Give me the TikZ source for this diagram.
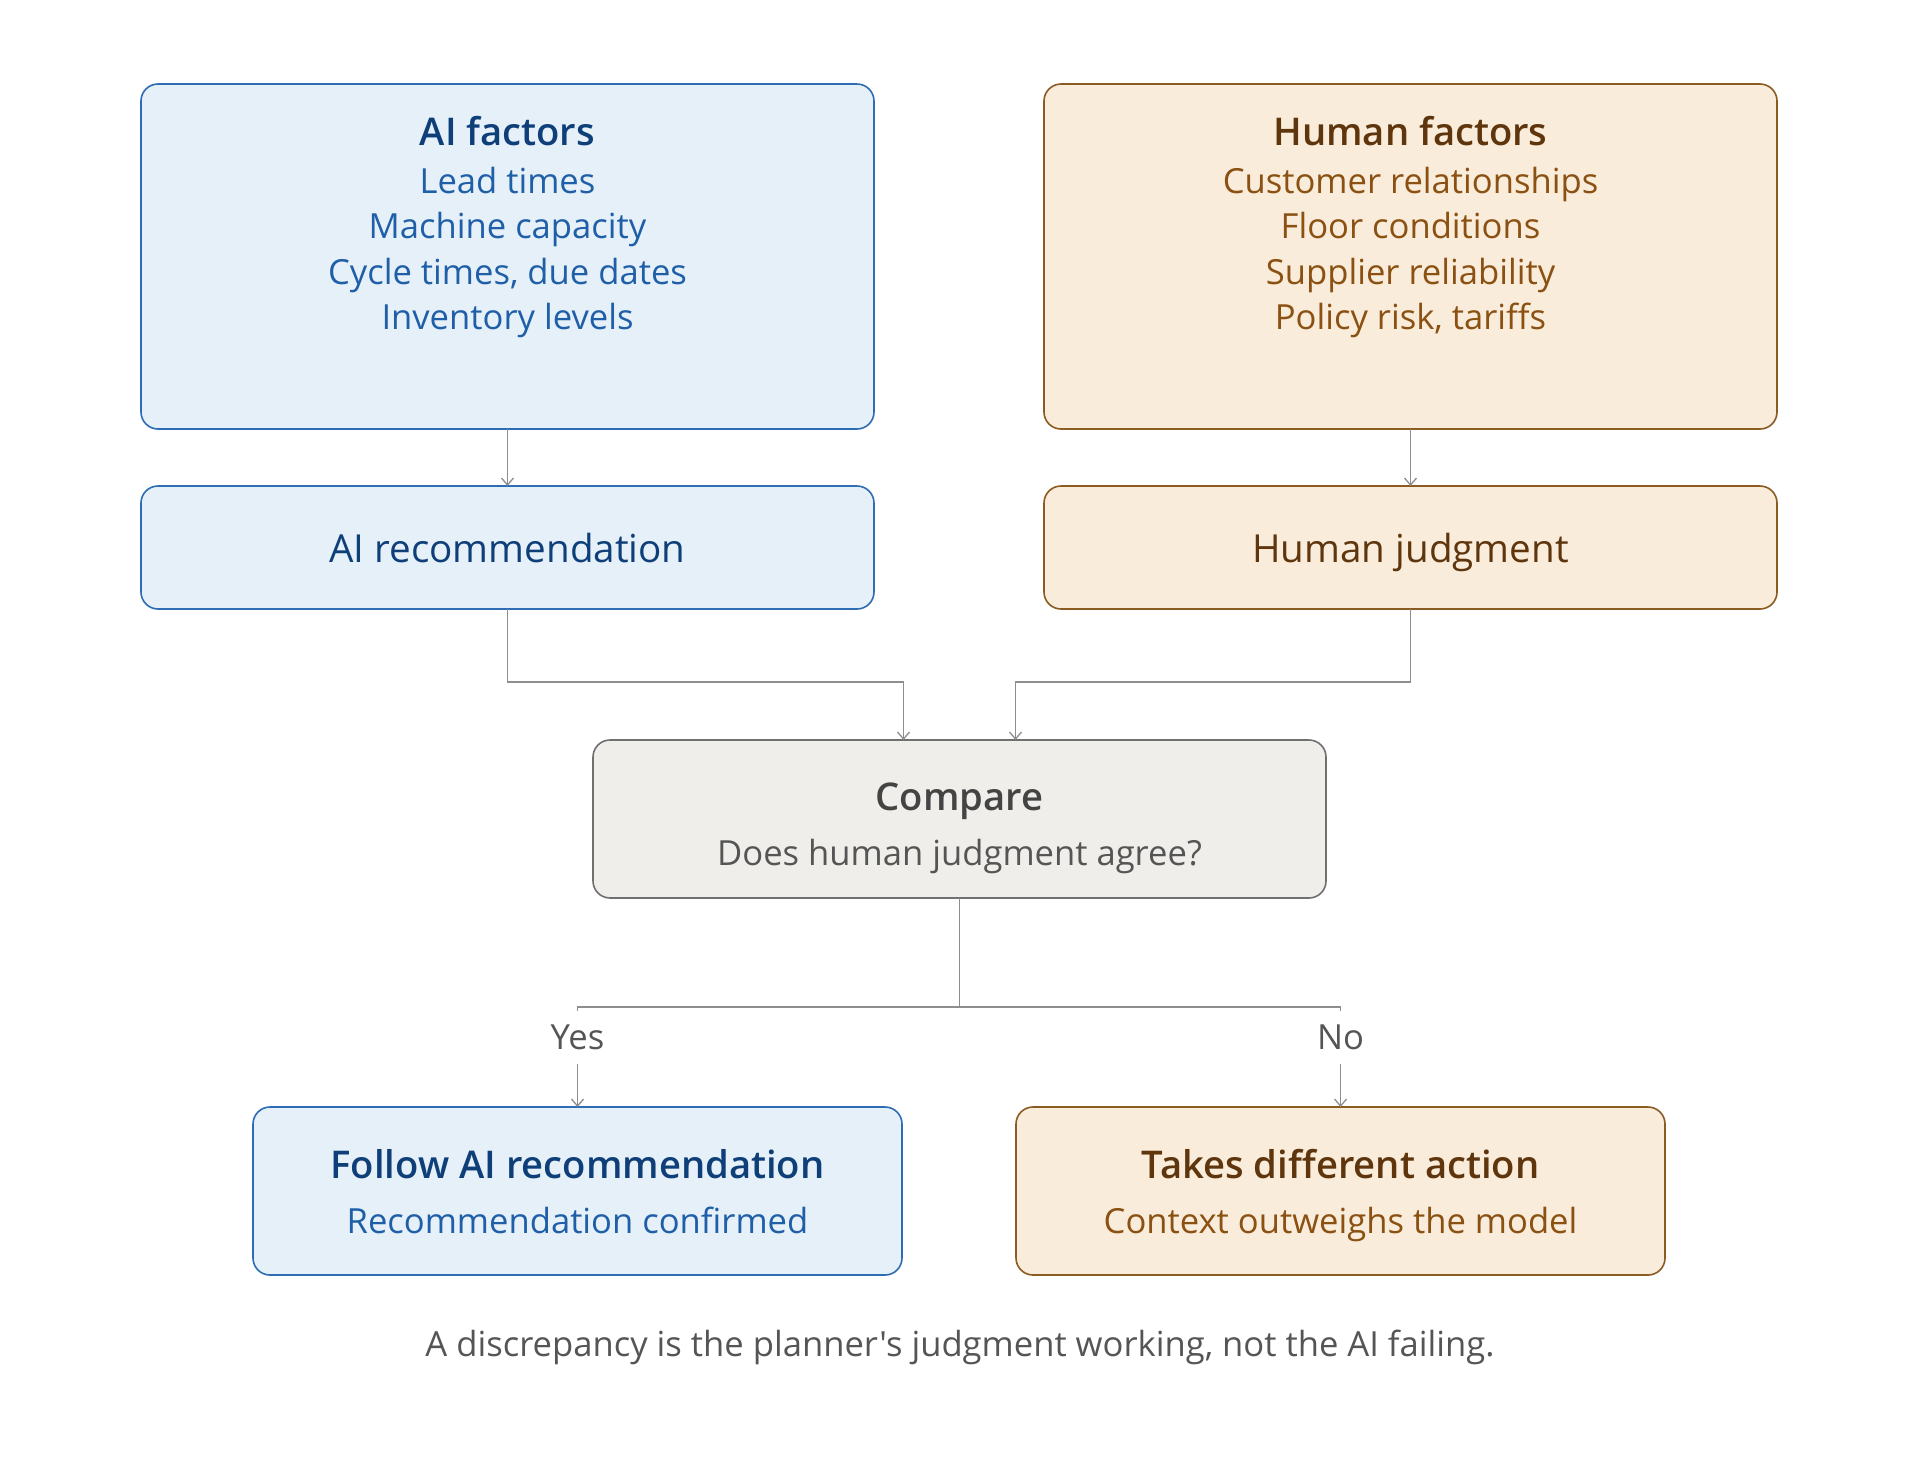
\documentclass[tikz,border=0pt]{standalone}
\usepackage{fontspec}
\setmainfont{Open Sans}[Ligatures=TeXOff, BoldFont={* Semibold}]
\usetikzlibrary{arrows.meta}
\usetikzlibrary{positioning}
\usetikzlibrary{calc}

\definecolor{aifill}{HTML}{E6F0F9}
\definecolor{aidraw}{HTML}{2E6DB4}
\definecolor{aititle}{HTML}{0E3F79}
\definecolor{aitext}{HTML}{1F5FA8}
\definecolor{hufill}{HTML}{F9ECDA}
\definecolor{hudraw}{HTML}{8B5B22}
\definecolor{hutitle}{HTML}{5E350C}
\definecolor{hutext}{HTML}{8A5113}
\definecolor{cmpfill}{HTML}{EFEEEA}
\definecolor{cmpdraw}{HTML}{707070}
\definecolor{cmptitle}{HTML}{444444}
\definecolor{cmptext}{HTML}{555555}
\definecolor{linegray}{HTML}{8E8E8E}

\newcommand{\ttlfont}{\fontsize{19.1}{22}\selectfont\bfseries}
\newcommand{\bigfont}{\fontsize{19.3}{22}\selectfont}
\newcommand{\itmfont}{\fontsize{17.3}{22.65}\selectfont}

\begin{document}
\begin{tikzpicture}[x=0.5pt, y=-0.5pt, >={Straight Barb[length=3.5pt,width=6pt]}]
 \tikzstyle{def} = [rounded corners=8.5pt, line width=0.8pt, inner sep=0pt, outer sep=0pt];
 \tikzstyle{ai} = [def, draw=aidraw, fill=aifill];
 \tikzstyle{hu} = [def, draw=hudraw, fill=hufill];
 \tikzstyle{cmp} = [def, draw=cmpdraw, fill=cmpfill];
 \tikzstyle{txt} = [inner sep=0pt, outer sep=0pt, align=center, font=\itmfont];
 \useasboundingbox (0,0) rectangle (1920,1468);

 % factor boxes
 \node (aif) [ai, minimum width=366.5pt, minimum height=172.5pt] at (507.5,256.5) {};
 \node (huf) [hu, minimum width=366.5pt, minimum height=172.5pt, right=85pt of aif] {};
 \node (aiftxt) [txt, anchor=north, text=aitext] at ([yshift=-15.9pt]aif.north)
   {{\ttlfont\color{aititle}AI factors}\\[1.6pt] Lead times\\ Machine capacity\\ Cycle times, due dates\\ Inventory levels};
 \node (huftxt) [txt, anchor=north, text=hutext] at ([yshift=-15.9pt]huf.north)
   {{\ttlfont\color{hutitle}Human factors}\\[1.6pt] Customer relationships\\ Floor conditions\\ Supplier reliability\\ Policy risk, tariffs};

 % recommendation and judgment
 \node (airec) [ai, minimum width=366.5pt, minimum height=61.5pt, below=28.5pt of aif,
   font=\bigfont, text=aititle, text depth=0pt] {AI recommendation};
 \node (hujud) [hu, minimum width=366.5pt, minimum height=61.5pt, below=28.5pt of huf,
   font=\bigfont, text=hutitle, text depth=0pt] {Human judgment};

 % compare
 \node (compare) [cmp, minimum width=366.5pt, minimum height=79pt] at (959.5,819) {};
 \node (cmptxt) [txt, anchor=north, text=cmptext] at ([yshift=-21.25pt]compare.north)
   {{\ttlfont\color{cmptitle}Compare}\\[4.85pt] Does human judgment agree?};

 % outcomes
 \node (follow) [ai, minimum width=324.5pt, minimum height=84pt] at (577.5,1191) {};
 \node (takes) [hu, minimum width=324.5pt, minimum height=84pt, right=57pt of follow] {};
 \node (followtxt) [txt, anchor=north, text=aitext] at ([yshift=-21.15pt]follow.north)
   {{\ttlfont\color{aititle}Follow AI recommendation}\\[4.85pt] Recommendation confirmed};
 \node (takestxt) [txt, anchor=north, text=hutext] at ([yshift=-21.15pt]takes.north)
   {{\ttlfont\color{hutitle}Takes different action}\\[4.85pt] Context outweighs the model};

 \node (yes) [txt, text=cmptext, text depth=0pt, minimum height=26.5pt, above=21.5pt of follow] {Yes};
 \node (no) [txt, text=cmptext, text depth=0pt, minimum height=26.5pt, above=21.5pt of takes] {No};

 \node (note) [txt, text=cmptext, text depth=0pt] at (960,1343)
   {A discrepancy is the planner's judgment working, not the AI failing.};

 \tikzstyle{C} = [color=linegray, line width=0.65pt]

 \draw [->, C] (aif) -- (airec);
 \draw [->, C] (huf) -- (hujud);
 \draw [->, C] (airec.south) -- ++(0,73) -| ([xshift=-28pt]compare.north);
 \draw [->, C] (hujud.south) -- ++(0,73) -| ([xshift=28pt]compare.north);
 \draw [C] (compare.south) -- ++(0,109) coordinate (split);
 \draw [C] (split) -| (yes.north);
 \draw [C] (split) -| (no.north);
 \draw [->, C] (yes) -- (follow);
 \draw [->, C] (no) -- (takes);
\end{tikzpicture}
\end{document}
